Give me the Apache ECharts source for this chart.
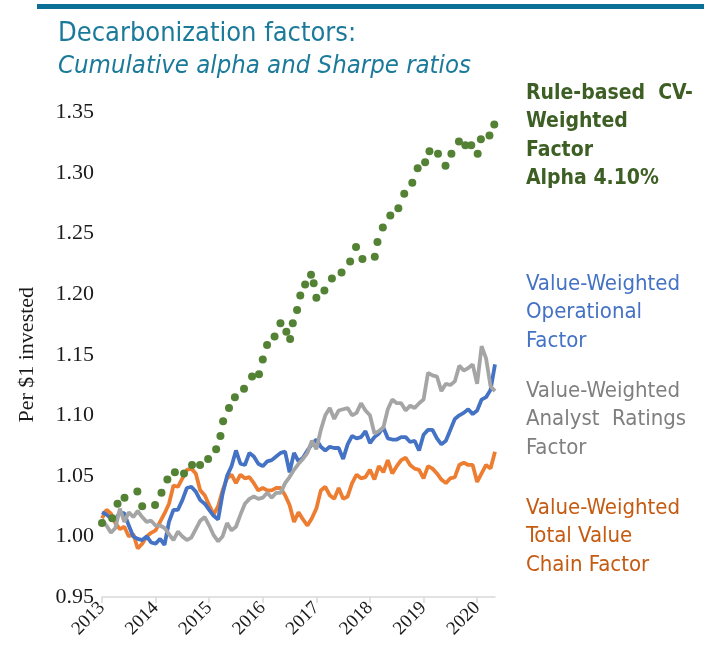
<!DOCTYPE html>
<html>
<head>
<meta charset="utf-8">
<title>Decarbonization factors</title>
<script src="https://cdn.jsdelivr.net/npm/echarts@6/dist/echarts.min.js"></script>
<style>
  html, body { margin: 0; padding: 0; background: #fff; }
  #chart { width: 704px; height: 653px; }
</style>
</head>
<body>
<div id="chart"></div>
<script>
// monthly points, Jan 2013 .. May 2020
var months = [];
for (var y = 2013; y <= 2020; y++) {
    for (var m = 1; m <= 12; m++) {
        if (y === 2020 && m > 5) break;
        months.push(y + '-' + (m < 10 ? '0' + m : m));
    }
}

var operational = [
    1.020, 1.018, 1.015, 1.014, 1.020, 1.019, 1.009, 1.000, 0.998, 0.997, 1.000, 0.995,
    0.994, 0.998, 0.993, 1.012, 1.022, 1.022, 1.030, 1.040, 1.041, 1.037, 1.030, 1.027,
    1.022, 1.017, 1.014, 1.035, 1.050, 1.058, 1.071, 1.060, 1.059, 1.069, 1.066, 1.060,
    1.058, 1.062, 1.063, 1.066, 1.069, 1.070, 1.053, 1.069, 1.062, 1.065, 1.071, 1.076,
    1.080, 1.074, 1.071, 1.074, 1.073, 1.073, 1.064, 1.076, 1.083, 1.081, 1.082, 1.087,
    1.077, 1.082, 1.085, 1.090, 1.081, 1.080, 1.080, 1.082, 1.082, 1.078, 1.079, 1.071,
    1.084, 1.088, 1.088, 1.081, 1.076, 1.079, 1.088, 1.097, 1.100, 1.102, 1.105, 1.101,
    1.104, 1.113, 1.115, 1.121, 1.142
];

var analyst = [
    1.014, 1.009, 1.003, 1.007, 1.023, 1.012, 1.020, 1.016, 1.021, 1.016, 1.012, 1.013,
    1.009, 1.009, 1.007, 1.002, 0.997, 1.004, 1.000, 0.997, 0.999, 1.006, 1.013, 1.016,
    1.009, 1.001, 0.996, 1.000, 1.011, 1.005, 1.008, 1.018, 1.027, 1.031, 1.033, 1.031,
    1.032, 1.036, 1.032, 1.036, 1.036, 1.044, 1.049, 1.055, 1.060, 1.064, 1.069, 1.079,
    1.072, 1.088, 1.100, 1.106, 1.097, 1.104, 1.105, 1.106, 1.100, 1.102, 1.110, 1.104,
    1.100, 1.085, 1.087, 1.090, 1.105, 1.113, 1.110, 1.110, 1.104, 1.108, 1.106, 1.110,
    1.113, 1.135, 1.133, 1.132, 1.120, 1.126, 1.125, 1.128, 1.141, 1.137, 1.139, 1.142,
    1.126, 1.157, 1.147, 1.124, 1.120
];

var valueChain = [
    1.015, 1.022, 1.019, 1.011, 1.006, 1.008, 1.000, 1.002, 0.990, 0.994, 1.000, 1.003,
    1.005, 1.012, 1.019, 1.027, 1.042, 1.041, 1.048, 1.055, 1.056, 1.052, 1.038, 1.034,
    1.026, 1.018, 1.025, 1.038, 1.048, 1.051, 1.044, 1.051, 1.048, 1.049, 1.044, 1.038,
    1.040, 1.038, 1.038, 1.040, 1.040, 1.034, 1.026, 1.012, 1.020, 1.014, 1.009, 1.015,
    1.023, 1.038, 1.041, 1.034, 1.031, 1.040, 1.031, 1.033, 1.044, 1.051, 1.048, 1.049,
    1.055, 1.047, 1.058, 1.053, 1.063, 1.052, 1.058, 1.063, 1.065, 1.059, 1.056, 1.055,
    1.048, 1.058, 1.056, 1.052, 1.047, 1.044, 1.048, 1.049, 1.059, 1.061, 1.059, 1.059,
    1.045, 1.052, 1.059, 1.056, 1.070
];

// dotted rule-based CV-weighted series: [year, value] of each dot
var cvWeighted = [
    [2013.00, 1.011], [2013.19, 1.015], [2013.29, 1.027], [2013.42, 1.032], [2013.66, 1.037],
    [2013.75, 1.025], [2013.99, 1.026], [2014.11, 1.036], [2014.22, 1.047], [2014.36, 1.053],
    [2014.53, 1.052], [2014.68, 1.059], [2014.83, 1.059], [2014.98, 1.064], [2015.13, 1.072],
    [2015.21, 1.083], [2015.26, 1.095], [2015.37, 1.106], [2015.48, 1.115], [2015.65, 1.122],
    [2015.80, 1.132], [2015.93, 1.134], [2016.00, 1.146], [2016.08, 1.158], [2016.22, 1.165],
    [2016.33, 1.176], [2016.44, 1.169], [2016.51, 1.163], [2016.56, 1.176], [2016.64, 1.187],
    [2016.70, 1.199], [2016.79, 1.208], [2016.90, 1.216], [2016.95, 1.209], [2017.00, 1.197],
    [2017.15, 1.203], [2017.29, 1.213], [2017.47, 1.218], [2017.63, 1.227], [2017.74, 1.239],
    [2017.86, 1.229], [2018.09, 1.231], [2018.14, 1.243], [2018.24, 1.255], [2018.38, 1.265],
    [2018.53, 1.271], [2018.64, 1.283], [2018.79, 1.292], [2018.89, 1.304], [2019.03, 1.309],
    [2019.11, 1.318], [2019.27, 1.316], [2019.41, 1.306], [2019.52, 1.316], [2019.66, 1.326],
    [2019.78, 1.323], [2019.89, 1.323], [2020.01, 1.316], [2020.07, 1.328], [2020.23, 1.331],
    [2020.32, 1.340]
];

var yMin = 0.95, yMax = 1.35, yStep = 0.05;

var chart = echarts.init(document.getElementById('chart'));

var serif = '"Liberation Serif", "Times New Roman", serif';
var narrow = '"Liberation Sans Narrow", "Arial Narrow", "DejaVu Sans Condensed", sans-serif';

var option = {
    backgroundColor: '#fff',
    animation: false,
    grid: { left: 102, right: 209, top: 112.5, bottom: 56 },
    xAxis: [
        {
            type: 'category',
            data: months,
            boundaryGap: false,
            axisLine: { lineStyle: { color: '#d9d9d9', width: 1.5 } },
            axisTick: { interval: 11, length: 6, lineStyle: { color: '#d9d9d9', width: 1.5 } },
            axisLabel: {
                interval: 11,
                rotate: 45,
                margin: 8,
                color: '#1a1a1a',
                fontFamily: serif,
                fontSize: 19,
                formatter: function (v) { return v.slice(0, 4); }
            },
            splitLine: { show: false }
        },
        {
            type: 'value',
            min: 2013,
            max: 2013 + (months.length - 1) / 12,
            show: false
        }
    ],
    yAxis: {
        type: 'value',
        min: yMin,
        max: yMax,
        interval: yStep,
        name: 'Per $1 invested',
        nameLocation: 'middle',
        nameGap: 64,
        nameTextStyle: { fontFamily: serif, fontSize: 22, color: '#1a1a1a' },
        axisLine: { show: false },
        axisTick: { show: false },
        splitLine: { show: false },
        axisLabel: {
            margin: 8,
            color: '#1a1a1a',
            fontFamily: serif,
            fontSize: 22,
            formatter: function (v) { return v.toFixed(2); }
        }
    },
    series: [
        {
            name: 'Value-Weighted Total Value Chain Factor',
            type: 'line',
            data: valueChain,
            showSymbol: false,
            lineStyle: { color: '#ED7D31', width: 3.8 },
            z: 2
        },
        {
            name: 'Value-Weighted Operational Factor',
            type: 'line',
            data: operational,
            showSymbol: false,
            lineStyle: { color: '#4472C4', width: 3.8 },
            z: 3
        },
        {
            name: 'Value-Weighted Analyst Ratings Factor',
            type: 'line',
            data: analyst,
            showSymbol: false,
            lineStyle: { color: '#A5A5A5', width: 3.8 },
            z: 4
        },
        {
            name: 'Rule-based CV-Weighted Factor',
            type: 'scatter',
            xAxisIndex: 1,
            data: cvWeighted,
            symbolSize: 8,
            itemStyle: { color: '#548235', opacity: 1 },
            z: 5
        }
    ],
    graphic: [
        { type: 'rect', shape: { x: 37, y: 4, width: 667, height: 5 }, style: { fill: '#0b7096' } },
        {
            type: 'text', x: 58, y: 20,
            style: { text: 'Decarbonization factors:', font: '27px ' + narrow, fill: '#1b7a9a' }
        },
        {
            type: 'text', x: 58, y: 53,
            style: { text: 'Cumulative alpha and Sharpe ratios', font: 'italic 25.5px ' + narrow, fill: '#1b7a9a' }
        },
        {
            type: 'text', x: 526, y: 79,
            style: {
                text: 'Rule-based  CV-\nWeighted\nFactor\nAlpha 4.10%',
                font: 'bold 21px ' + narrow, fill: '#3d5f24', lineHeight: 28.5
            }
        },
        {
            type: 'text', x: 526, y: 270,
            style: {
                text: 'Value-Weighted\nOperational\nFactor',
                font: '22px ' + narrow, fill: '#4472C4', lineHeight: 28.5
            }
        },
        {
            type: 'text', x: 526, y: 377,
            style: {
                text: 'Value-Weighted\nAnalyst  Ratings\nFactor',
                font: '22px ' + narrow, fill: '#7f7f7f', lineHeight: 28.5
            }
        },
        {
            type: 'text', x: 526, y: 494,
            style: {
                text: 'Value-Weighted\nTotal Value\nChain Factor',
                font: '22px ' + narrow, fill: '#c55a11', lineHeight: 28.5
            }
        }
    ]
};

chart.setOption(option);

window.onresize = function () {
    chart.resize();
};
</script>
</body>
</html>
